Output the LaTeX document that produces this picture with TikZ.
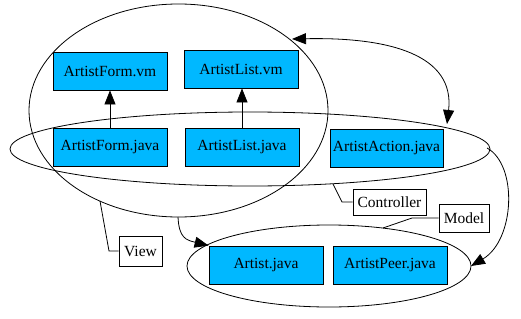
\documentclass[tikz,border=0pt]{standalone}
\usepackage{fontspec}
\setmainfont{Liberation Serif}
\usetikzlibrary{arrows.meta,shapes.geometric}
\definecolor{boxblue}{RGB}{0,184,255}
\begin{document}
\begin{tikzpicture}[x=1pt,y=-1pt,
  every path/.style={line width=0.8pt},
  cls/.style={draw=black, fill=boxblue, minimum width=114pt, minimum height=38pt, inner sep=0pt, font=\fontsize{15.5pt}{17pt}\selectfont},
  lbl/.style={draw=black, fill=white, inner sep=0pt, font=\fontsize{15.5pt}{17pt}\selectfont},
  grp/.style={draw=black, ellipse, inner sep=0pt},
  tip/.style={-{Triangle[length=14pt,width=11pt]}},
  dtip/.style={{Triangle[length=14pt,width=11pt]}-{Triangle[length=14pt,width=11pt]}}]
\useasboundingbox (0,0) rectangle (521,318);
% groups
\node[grp, minimum width=299pt, minimum height=213pt] (view) at (178.5,110.5) {};
\node[grp, minimum width=480pt, minimum height=74pt] (ctrl) at (250,149) {};
\node[grp, minimum width=284pt, minimum height=82pt] (model) at (329,266) {};
% classes
\node[cls] (afvm) at (110,71) {ArtistForm.vm};
\node[cls] (alvm) at (241,69) {ArtistList.vm};
\node[cls] (afj) at (110,147) {ArtistForm.java};
\node[cls] (alj) at (242,147) {ArtistList.java};
\node[cls, minimum width=113pt] (aaj) at (386.5,148) {ArtistAction.java};
\node[cls] (aj) at (266,265) {Artist.java};
\node[cls] (apj) at (390,265) {ArtistPeer.java};
% labels
\node[lbl, minimum width=43pt, minimum height=30pt] (vl) at (140.5,251) {View};
\node[lbl, minimum width=73pt, minimum height=26pt] (cl) at (389.5,202) {Controller};
\node[lbl, minimum width=50pt, minimum height=28pt] (ml) at (464,218) {Model};
% attachment points
\coordinate (vtop) at (292,39);
\coordinate (ctop) at (447,124);
\coordinate (cright) at (487,148);
\coordinate (mright) at (471,266);
\coordinate (vbot) at (178,217);
\coordinate (vcall) at (100,201);
\coordinate (ccall) at (333,184);
\coordinate (mcall) at (383,228);
% connectors
\draw[tip] (afj.north) -- (afvm.south);
\draw[tip] (alj.north) -- (alj.north |- alvm.south);
\draw[dtip] (vtop) .. controls (390,37) and (455,55) .. (ctop);
\draw[tip] (cright) .. controls (518,165) and (515,240) .. (mright);
\draw[tip] (vbot) .. controls (179,238) and (186,240) .. (aj.north west);
\draw (vcall) -- (109,251) -- (vl.west);
\draw (ccall) -- (342,202) -- (cl.west);
\draw (mcall) -- (412,218) -- (ml.west);
\end{tikzpicture}
\end{document}
